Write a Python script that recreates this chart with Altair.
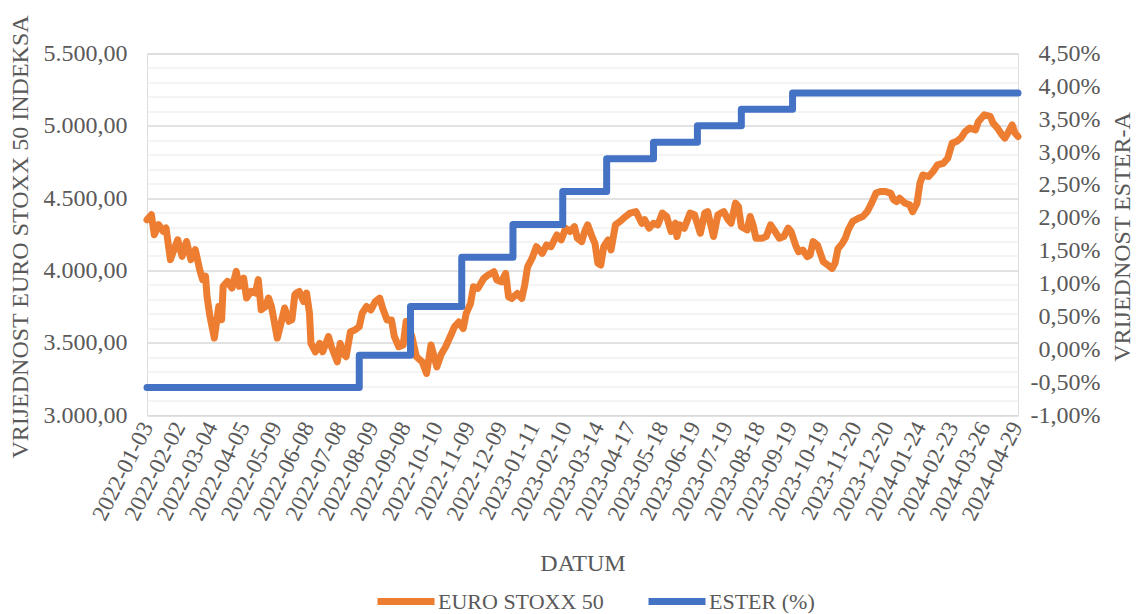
import altair as alt
import pandas as pd

# x tick labels (every 22 trading days)
date_labels = ["2022-01-03", "2022-02-02", "2022-03-04", "2022-04-05", "2022-05-09", "2022-06-08",
               "2022-07-08", "2022-08-09", "2022-09-08", "2022-10-10", "2022-11-09", "2022-12-09",
               "2023-01-11", "2023-02-10", "2023-03-14", "2023-04-17", "2023-05-18", "2023-06-19",
               "2023-07-19", "2023-08-18", "2023-09-19", "2023-10-19", "2023-11-20", "2023-12-20",
               "2024-01-24", "2024-02-23", "2024-03-26", "2024-04-29"]
label_step = 22
last_day = 595

# EURO STOXX 50 (trading-day index, index value)
stoxx_day = [0, 3, 5, 8, 11, 13, 16, 18, 21, 24, 27, 30, 33, 36, 38, 40, 41, 43, 46, 49, 51, 52, 55, 58, 61, 63,
             66, 68, 71, 74, 76, 78, 81, 83, 85, 89, 91, 94, 97, 99, 101, 102, 104, 107, 109, 111, 112, 115, 118,
             120, 124, 126, 130, 132, 134, 136, 139, 142, 145, 147, 150, 153, 156, 159, 161, 164, 167, 169, 172,
             175, 177, 181, 184, 188, 191, 194, 198, 201, 204, 208, 210, 213, 216, 218, 221, 223, 226, 230, 233,
             237, 239, 242, 245, 247, 249, 253, 256, 258, 260, 263, 266, 270, 273, 276, 280, 283, 286, 289, 292,
             294, 297, 299, 301, 304, 306, 308, 310, 312, 315, 317, 320, 323, 327, 330, 334, 338, 340, 343, 346,
             349, 352, 355, 358, 361, 362, 364, 367, 371, 374, 378, 381, 383, 387, 390, 394, 397, 399, 402, 404,
             406, 410, 412, 414, 416, 420, 423, 426, 429, 432, 435, 438, 440, 443, 445, 448, 451, 453, 455, 458,
             460, 462, 465, 468, 470, 472, 475, 477, 479, 482, 486, 489, 492, 495, 498, 501, 504, 508, 510, 512,
             514, 518, 521, 523, 526, 528, 530, 534, 537, 540, 544, 547, 550, 553, 556, 559, 562, 566, 568, 572,
             576, 578, 581, 584, 586, 588, 591, 593, 595]
stoxx_val = [4350, 4385, 4247, 4316, 4270, 4293, 4074, 4131, 4212, 4097, 4200, 4074, 4143, 4005, 3936, 3959, 3820,
             3682, 3532, 3750, 3659, 3890, 3924, 3878, 3993, 3890, 3947, 3809, 3855, 3843, 3936, 3728, 3751, 3809,
             3751, 3532, 3613, 3740, 3648, 3659, 3832, 3843, 3854, 3785, 3843, 3704, 3495, 3437, 3495, 3437, 3542,
             3472, 3368, 3495, 3426, 3403, 3576, 3588, 3611, 3704, 3750, 3727, 3785, 3808, 3738, 3657, 3657, 3542,
             3472, 3484, 3646, 3542, 3403, 3368, 3287, 3484, 3333, 3420, 3472, 3562, 3609, 3643, 3597, 3701, 3771,
             3887, 3875, 3944, 3968, 3991, 3933, 3921, 3979, 3817, 3806, 3840, 3806, 3898, 4025, 4083, 4164, 4118,
             4176, 4164, 4245, 4211, 4292, 4269, 4303, 4222, 4199, 4269, 4315, 4234, 4187, 4049, 4037, 4164, 4211,
             4141, 4315, 4338, 4373, 4396, 4407, 4326, 4350, 4292, 4326, 4315, 4396, 4373, 4269, 4326, 4234, 4315,
             4292, 4396, 4385, 4257, 4396, 4407, 4234, 4385, 4407, 4350, 4326, 4465, 4442, 4303, 4280, 4373, 4315,
             4222, 4222, 4234, 4315, 4269, 4222, 4234, 4292, 4269, 4176, 4130, 4141, 4095, 4106, 4199, 4176, 4118,
             4060, 4037, 4014, 4049, 4150, 4187, 4222, 4280, 4338, 4361, 4373, 4407, 4465, 4535, 4546, 4546, 4535,
             4490, 4476, 4499, 4464, 4453, 4406, 4464, 4603, 4660, 4649, 4684, 4730, 4741, 4776, 4880, 4891, 4915,
             4961, 4984, 4972, 5030, 5076, 5065, 5018, 4984, 4938, 4915, 4949, 5007, 4949, 4926]

# ESTER (%) levels, each holding from its start day
ester_day = [0, 145, 180, 215, 250, 284, 314, 346, 376, 406, 441, 595]
ester_val = [-0.58, -0.09, 0.65, 1.40, 1.90, 2.40, 2.90, 3.15, 3.40, 3.65, 3.90, 3.90]

left_major = [3000, 3500, 4000, 4500, 5000, 5500]
left_minor = [v for v in range(3000, 5501, 100) if v % 500 != 0]
right_ticks = [-1.0, -0.5, 0.0, 0.5, 1.0, 1.5, 2.0, 2.5, 3.0, 3.5, 4.0, 4.5]

series_names = ["EURO STOXX 50", "ESTER (%)"]
series_colors = ["#ED7D31", "#4472C4"]

stoxx_df = pd.DataFrame({"day": stoxx_day, "value": stoxx_val, "series": series_names[0]})
ester_df = pd.DataFrame({"day": ester_day, "rate": ester_val, "series": series_names[1]})

FONT = "Liberation Serif"
TXT = "#595959"

label_arr = "[" + ",".join("'%s'" % d for d in date_labels) + "]"
x_enc = alt.X("day:Q",
              scale=alt.Scale(domain=[0, last_day], nice=False, zero=False),
              axis=alt.Axis(values=list(range(0, last_day, label_step)),
                            labelExpr=label_arr + "[round(datum.value/%d)]" % label_step,
                            labelAngle=-63, labelFontSize=23, labelFont=FONT, labelColor=TXT,
                            labelPadding=8, labelOverlap=False, labelBound=False,
                            ticks=False, domain=False, grid=False,
                            title="DATUM", titleFont=FONT, titleFontSize=24, titleColor=TXT,
                            titleFontWeight="normal", titleY=148, titleBaseline="middle"))

color_enc = alt.Color("series:N",
                      scale=alt.Scale(domain=series_names, range=series_colors),
                      legend=alt.Legend(title=None, orient="none", direction="horizontal",
                                        legendX=227, legendY=516,
                                        symbolType="stroke", symbolSize=3249, symbolStrokeWidth=7,
                                        labelFont=FONT, labelFontSize=22, labelColor=TXT, labelLimit=400,
                                        labelOffset=0, columnPadding=30, columns=2))

left_scale = alt.Scale(domain=[3000, 5500], nice=False, zero=False)

minor_grid = alt.Chart(stoxx_df).mark_line(strokeOpacity=0).encode(
    x=x_enc,
    y=alt.Y("value:Q", scale=left_scale,
            axis=alt.Axis(values=left_minor, orient="left", labels=False, ticks=False, domain=False,
                          grid=True, gridColor="#F0F0F0", gridWidth=1.3, title=None)))

stoxx_line = alt.Chart(stoxx_df).mark_line(strokeWidth=7, strokeCap="round", strokeJoin="round").encode(
    x=x_enc,
    y=alt.Y("value:Q", scale=left_scale,
            axis=alt.Axis(values=left_major, orient="left",
                          labelExpr="replace(replace(replace(format(datum.value, ',.2f'), ',', '#'), '.', ','), '#', '.')",
                          labelFont=FONT, labelFontSize=24, labelColor=TXT, labelPadding=20,
                          ticks=False, domain=False, grid=True, gridColor="#D9D9D9", gridWidth=1.3,
                          title="VRIJEDNOST EURO STOXX 50 INDEKSA", titleFont=FONT, titleFontSize=24,
                          titleColor=TXT, titleFontWeight="normal", titleAngle=270,
                          titleX=-127, titleY=183, titleAlign="center", titleBaseline="middle")),
    color=color_enc)

left_layer = alt.layer(minor_grid, stoxx_line).resolve_axis(y="independent")

ester_line = alt.Chart(ester_df).mark_line(strokeWidth=7, strokeCap="round", strokeJoin="round",
                                           interpolate="step-after").encode(
    x=x_enc,
    y=alt.Y("rate:Q", scale=alt.Scale(domain=[-1, 4.5], nice=False, zero=False),
            axis=alt.Axis(values=right_ticks, orient="right",
                          labelExpr="replace(replace(format(datum.value, '.2f'), '.', ','), '\u2212', '-') + '%'",
                          labelFont=FONT, labelFontSize=24, labelColor=TXT, labelPadding=82,
                          labelAlign="right", ticks=False, domain=False, grid=False,
                          title="VRIJEDNOST ESTER-A", titleFont=FONT, titleFontSize=24,
                          titleColor=TXT, titleFontWeight="normal", titleAngle=270,
                          titleX=104, titleY=183, titleAlign="center", titleBaseline="middle")),
    color=color_enc)

chart = alt.layer(left_layer, ester_line).resolve_scale(y="independent").properties(
    width=871, height=361.5,
    autosize=alt.AutoSizeParams(type="none"),
    padding={"left": 139, "top": 45.5, "right": 116, "bottom": 199},
).configure_view(stroke=None).configure(background="white")

chart.save("out.html", embed_options={"renderer": "svg", "actions": False})
